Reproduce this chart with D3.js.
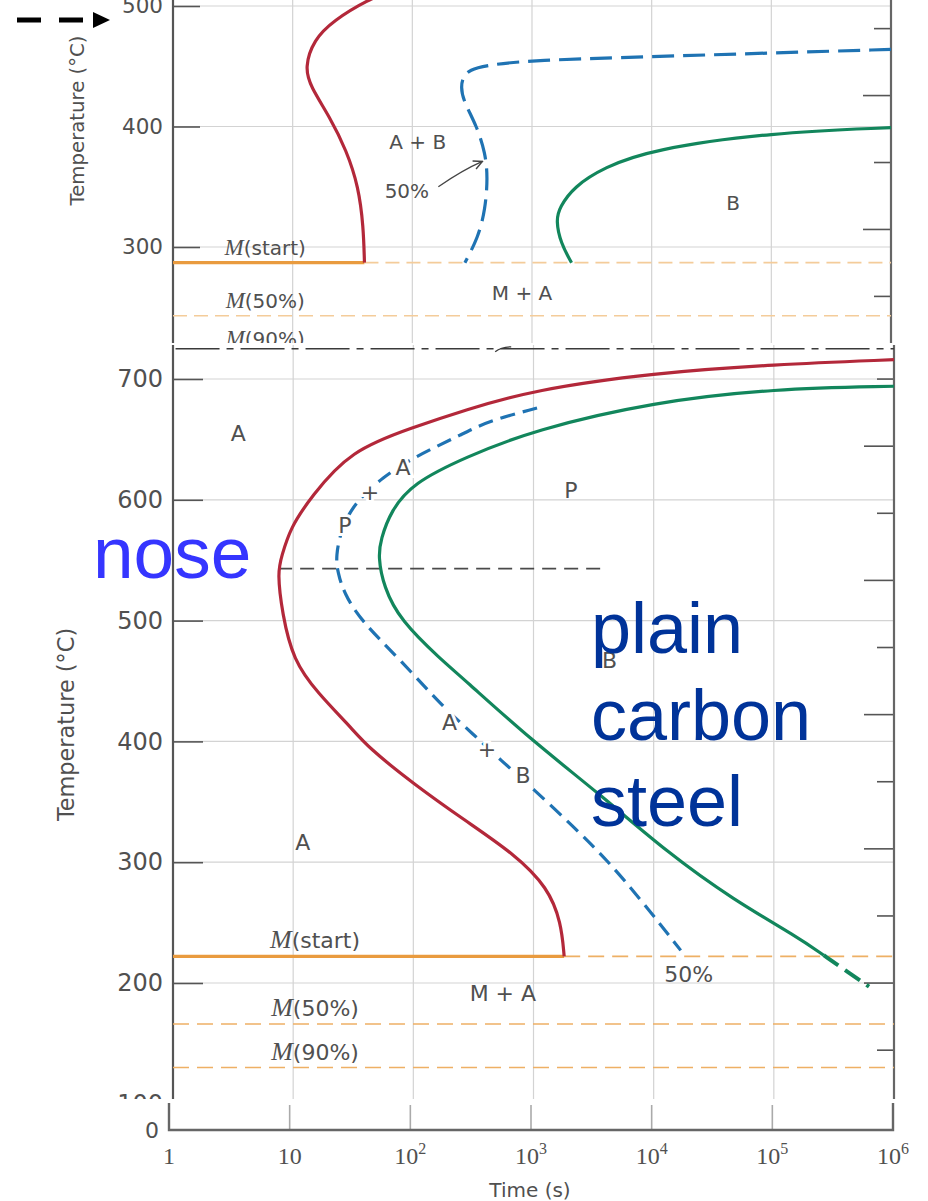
<!DOCTYPE html>
<html>
<head>
<meta charset="utf-8">
<title>TTT diagram</title>
<script src="https://cdn.jsdelivr.net/npm/d3@7/dist/d3.min.js"></script>
<style>
	body { margin: 0; background: #fff; }
	svg { display: block; }
</style>
</head>
<body>
<div id="chart"></div>
<script>
// times in seconds, temperatures in degrees C

// lower diagram: plain carbon (eutectoid) steel
var lowerStartTimes = [1e6, 1e5, 1e4, 1e3, 265, 100, 30, 14, 9.5, 8, 7.4, 8.1, 10, 16, 30, 42, 100, 265, 690, 1320, 1700, 1800];
var lowerStartTemps = [716, 712, 705, 691, 674, 660, 641, 602, 577, 553, 540, 506, 467, 440, 412, 395, 365, 335, 307, 279, 250, 222];
var lowerHalfTimes = [1070, 417, 263, 100, 56, 32, 25, 22.6, 23.5, 26.4, 36.5, 79, 178, 316, 525, 990, 2170, 4080, 7820, 16800];
var lowerHalfTemps = [676, 665, 655, 635, 619, 597, 575, 553, 540, 523, 500, 467, 428, 406, 385, 361, 329, 302, 269, 227];
var lowerEndTimes = [1e6, 1e5, 1e4, 1020, 267, 100, 65, 53.5, 51, 56.6, 78, 173, 254, 960, 3500, 13000, 46000, 158000, 260000];
var lowerEndTemps = [694, 692, 681, 658, 635, 614, 591, 567, 553, 528, 500, 467, 453, 401, 357, 308, 269, 238, 223];
var lowerEndTailTimes = [260000, 400000, 620000];
var lowerEndTailTemps = [223, 210, 197];
var lowerMartensite = [222, 166, 130];
var eutectoidTemp = 725;
var noseTemp = 543;
var noseTimes = [7.5, 3900];

// upper diagram (partly hidden behind the lower one)
var upperStartTimes = [75, 42, 22, 15, 12.6, 14.1, 20.4, 28.2, 35.5, 39, 39.8];
var upperStartTemps = [515, 505, 488, 472, 449, 433, 408, 380, 350, 317, 287];
var upperHalfTimes = [1e6, 1e5, 1e4, 1000, 420, 300, 265, 255, 265, 347, 407, 427, 407, 355, 275];
var upperHalfTemps = [464, 461, 458, 455, 451, 447, 441, 433, 422, 400, 378, 358, 331, 308, 287];
var upperEndTimes = [1e6, 1e5, 1e4, 3980, 2240, 1700, 1585, 1740, 2140];
var upperEndTemps = [399, 395, 381, 366, 350, 333, 322, 303, 287];
var upperMartensite = [287, 243, 211];

var martensiteNames = ["start", "50%", "90%"];
var decadeTicks = [1, 10, 100, 1e3, 1e4, 1e5, 1e6];
var lowerTempTicks = [700, 600, 500, 400, 300, 200, 100];
var upperTempTicks = [500, 400, 300];
var fahrenheitTicks = [1300, 1200, 1100, 1000, 900, 800, 700, 600, 500, 400, 300];

// region labels: [text, time, temp, halo]
var lowerRegionLabels = [
	["A", 3.5, 655, false], ["P", 27, 579, true], ["+", 43.5, 606, true], ["A", 82, 627, true],
	["P", 2050, 608, false], ["B", 4300, 467, false], ["A", 200, 416, true], ["+", 410, 394, true],
	["B", 820, 372, true], ["A", 12, 317, false], ["M + A", 556, 192, false], ["50%", 19600, 207, false]
];
var upperRegionLabels = [
	["A + B", 111, 387, false], ["50%", 90, 347, false], ["B", 48000, 337, false], ["M + A", 825, 262, false]
];

var colors = {
	start: "#b3283a",
	half: "#1f73b3",
	end: "#12865c",
	mart: "#e99b3f",
	martDash: "#eeb065",
	grid: "#d3d3d3",
	axis: "#555",
	text: "#505050"
};
var sansFont = "DejaVu Sans, sans-serif";
var serifFont = "Liberation Serif, Times New Roman, serif";
var bigFont = "Liberation Sans, Arial, sans-serif";

var width = 928, height = 1201;

var svg = d3.select("#chart").append("svg")
	.attr("width", width)
	.attr("height", height);

svg.append("rect")
	.attr("width", width)
	.attr("height", height)
	.attr("fill", "white");

var defs = svg.append("defs");
defs.append("clipPath").attr("id", "clipUpper")
	.append("rect").attr("x", 0).attr("y", 0).attr("width", width).attr("height", 343);
defs.append("clipPath").attr("id", "clipLower")
	.append("rect").attr("x", 0).attr("y", 345).attr("width", width).attr("height", 754);
defs.append("marker")
	.attr("id", "arrowHead")
	.attr("viewBox", "0 0 10 10")
	.attr("refX", 9)
	.attr("refY", 5)
	.attr("markerWidth", 11)
	.attr("markerHeight", 11)
	.attr("markerUnits", "userSpaceOnUse")
	.attr("orient", "auto")
	.append("path")
		.attr("d", "M1,1 L9,5 L1,9")
		.attr("fill", "none")
		.attr("stroke", "#444")
		.attr("stroke-width", 1.3);

function toCelsius(f) {
	return (f - 32) / 1.8;
}

function drawFrame(g, x, y, cfg) {
	var x0 = x.range()[0], x1 = x.range()[1];

	// grid
	g.append("g").selectAll("line")
		.data(decadeTicks.slice(1, -1))
		.enter().append("line")
			.attr("x1", function (d) { return x(d); })
			.attr("x2", function (d) { return x(d); })
			.attr("y1", cfg.top)
			.attr("y2", cfg.bottom)
			.attr("stroke", colors.grid)
			.attr("stroke-width", 1.2);

	g.append("g").selectAll("line")
		.data(cfg.temps)
		.enter().append("line")
			.attr("x1", x0)
			.attr("x2", x1)
			.attr("y1", function (d) { return y(d); })
			.attr("y2", function (d) { return y(d); })
			.attr("stroke", colors.grid)
			.attr("stroke-width", 1.2);

	// left axis, ticks pointing inwards
	var axis = g.append("g")
		.attr("transform", "translate(" + x0 + ",0)")
		.call(d3.axisLeft(y).tickValues(cfg.temps).tickSizeInner(-cfg.tickLength).tickSizeOuter(0).tickPadding(10));
	axis.attr("font-family", sansFont).attr("font-size", cfg.fontSize);
	axis.select(".domain").remove();
	axis.selectAll(".tick line").attr("stroke", colors.axis).attr("stroke-width", 1.6);
	axis.selectAll(".tick text").attr("fill", colors.text);

	// right axis is in degF, no labels visible
	g.append("g").selectAll("line")
		.data(fahrenheitTicks)
		.enter().append("line")
			.attr("x1", function (d) { return x1 - (d % 200 === 0 ? cfg.longTick : cfg.shortTick); })
			.attr("x2", x1)
			.attr("y1", function (d) { return y(toCelsius(d) + cfg.fShift); })
			.attr("y2", function (d) { return y(toCelsius(d) + cfg.fShift); })
			.attr("stroke", colors.axis)
			.attr("stroke-width", 1.6);

	g.append("line")
		.attr("x1", x0).attr("x2", x0)
		.attr("y1", cfg.top).attr("y2", cfg.bottom)
		.attr("stroke", colors.axis)
		.attr("stroke-width", 2.2);
	g.append("line")
		.attr("x1", x1).attr("x2", x1)
		.attr("y1", cfg.top).attr("y2", cfg.bottom)
		.attr("stroke", "#666")
		.attr("stroke-width", 2.2);
}

function drawCurve(g, x, y, times, temps, color, dash, strokeWidth) {
	var line = d3.line()
		.x(function (d) { return x(d[0]); })
		.y(function (d) { return y(d[1]); })
		.curve(d3.curveBasis);

	g.append("path")
		.datum(d3.zip(times, temps))
		.attr("d", line)
		.attr("fill", "none")
		.attr("stroke", color)
		.attr("stroke-width", strokeWidth || 3.2)
		.attr("stroke-dasharray", dash || null);
}

function drawMartensite(g, x, y, temps, solidUntil, cfg) {
	var ends = x.domain();

	// M(start) is solid until the start curve reaches it
	g.append("line")
		.attr("x1", x(ends[0])).attr("x2", x(solidUntil))
		.attr("y1", y(temps[0])).attr("y2", y(temps[0]))
		.attr("stroke", colors.mart)
		.attr("stroke-width", 3.2);
	g.append("line")
		.attr("x1", x(solidUntil)).attr("x2", x(ends[1]))
		.attr("y1", y(temps[0])).attr("y2", y(temps[0]))
		.attr("stroke", cfg.dashColor)
		.attr("stroke-width", 1.6)
		.attr("stroke-dasharray", cfg.dash);

	g.append("g").selectAll("line")
		.data(temps.slice(1))
		.enter().append("line")
			.attr("x1", x(ends[0]))
			.attr("x2", x(ends[1]))
			.attr("y1", function (d) { return y(d); })
			.attr("y2", function (d) { return y(d); })
			.attr("stroke", cfg.dashColor)
			.attr("stroke-width", 1.6)
			.attr("stroke-dasharray", cfg.dash);

	temps.forEach(function (t, i) {
		var text = g.append("text")
			.attr("x", x(cfg.labelTime))
			.attr("y", y(t) - cfg.labelRise)
			.attr("text-anchor", "middle")
			.attr("fill", colors.text);
		text.append("tspan")
			.style("font-family", serifFont)
			.style("font-style", "italic")
			.style("font-size", cfg.mSize + "px")
			.text("M");
		text.append("tspan")
			.style("font-family", sansFont)
			.style("font-size", cfg.fontSize + "px")
			.text("(" + martensiteNames[i] + ")");
	});
}

function drawLabels(g, x, y, labels, fontSize) {
	g.append("g").selectAll("text")
		.data(labels)
		.enter().append("text")
			.attr("x", function (d) { return x(d[1]); })
			.attr("y", function (d) { return y(d[2]); })
			.attr("dy", "0.36em")
			.attr("text-anchor", "middle")
			.attr("font-family", sansFont)
			.attr("font-size", fontSize)
			.attr("fill", colors.text)
			.attr("stroke", function (d) { return d[3] ? "white" : null; })
			.attr("stroke-width", function (d) { return d[3] ? 6 : null; })
			.attr("paint-order", "stroke")
			.text(function (d) { return d[0]; });
}

// ---------- upper diagram ----------
var xUp = d3.scaleLog().domain([1, 1e6]).range([173, 891]);
var yUp = d3.scaleLinear().domain([500, 300]).range([6, 247]);
var upper = svg.append("g").attr("clip-path", "url(#clipUpper)");

drawFrame(upper, xUp, yUp, {
	top: 0, bottom: 343, temps: upperTempTicks, tickLength: 27,
	fontSize: 21.5, fShift: -1, longTick: 28, shortTick: 17
});
drawMartensite(upper, xUp, yUp, upperMartensite, upperStartTimes[upperStartTimes.length - 1], {
	dash: "14,7", dashColor: "#f4cc9a", labelTime: 5.9, labelRise: 8, mSize: 23, fontSize: 20
});
drawCurve(upper, xUp, yUp, upperStartTimes, upperStartTemps, colors.start);
drawCurve(upper, xUp, yUp, upperHalfTimes, upperHalfTemps, colors.half, "22,9");
drawCurve(upper, xUp, yUp, upperEndTimes, upperEndTemps, colors.end);
drawLabels(upper, xUp, yUp, upperRegionLabels, 20);

var leader = d3.path();
leader.moveTo(xUp(165), yUp(350));
leader.quadraticCurveTo(xUp(265), yUp(364), xUp(385), yUp(371));
upper.append("path")
	.attr("d", leader.toString())
	.attr("fill", "none")
	.attr("stroke", "#444")
	.attr("stroke-width", 1.3)
	.attr("marker-end", "url(#arrowHead)");

upper.append("text")
	.attr("transform", "translate(84," + yUp(405) + ") rotate(-90)")
	.attr("text-anchor", "middle")
	.attr("font-family", sansFont)
	.attr("font-size", 19.7)
	.attr("fill", colors.text)
	.text("Temperature (°C)");

// ---------- lower diagram ----------
var xLow = d3.scaleLog().domain([1, 1e6]).range([173, 894]);
var yLow = d3.scaleLinear().domain([700, 200]).range([379, 983]);
var lower = svg.append("g").attr("clip-path", "url(#clipLower)");

drawFrame(lower, xLow, yLow, {
	top: 345, bottom: 1099, temps: lowerTempTicks, tickLength: 30,
	fontSize: 24, fShift: -4.5, longTick: 30, shortTick: 17
});

// eutectoid line (dash-dot)
lower.append("line")
	.attr("x1", xLow(1.05)).attr("x2", xLow(1e6))
	.attr("y1", yLow(eutectoidTemp)).attr("y2", yLow(eutectoidTemp))
	.attr("stroke", "#3a3a3a")
	.attr("stroke-width", 1.6)
	.attr("stroke-dasharray", "44,7,7,7");
lower.append("path")
	.attr("d", "M" + xLow(480) + "," + (yLow(eutectoidTemp) + 3) + " q6,-5 16,-5")
	.attr("fill", "none")
	.attr("stroke", "#3a3a3a")
	.attr("stroke-width", 1.3);

// nose line
lower.append("line")
	.attr("x1", xLow(noseTimes[0])).attr("x2", xLow(noseTimes[1]))
	.attr("y1", yLow(noseTemp)).attr("y2", yLow(noseTemp))
	.attr("stroke", "#4a4a4a")
	.attr("stroke-width", 1.6)
	.attr("stroke-dasharray", "14,8");

drawMartensite(lower, xLow, yLow, lowerMartensite, lowerStartTimes[lowerStartTimes.length - 1], {
	dash: "16,8", dashColor: colors.martDash, labelTime: 15.2, labelRise: 8, mSize: 26, fontSize: 22
});
drawCurve(lower, xLow, yLow, lowerStartTimes, lowerStartTemps, colors.start);
drawCurve(lower, xLow, yLow, lowerHalfTimes, lowerHalfTemps, colors.half, "15,8");
drawCurve(lower, xLow, yLow, lowerEndTimes, lowerEndTemps, colors.end);
drawCurve(lower, xLow, yLow, lowerEndTailTimes, lowerEndTailTemps, colors.end, "18,8", 4);
drawLabels(lower, xLow, yLow, lowerRegionLabels, 22);

svg.append("text")
	.attr("transform", "translate(74," + yLow(414) + ") rotate(-90)")
	.attr("text-anchor", "middle")
	.attr("font-family", sansFont)
	.attr("font-size", 22.4)
	.attr("fill", colors.text)
	.text("Temperature (°C)");

// ---------- broken time axis below ----------
var xStrip = d3.scaleLog().domain([1, 1e6]).range([169, 893]);
var strip = svg.append("g");
var stripTop = 1103, stripAxis = 1130;

strip.selectAll("line")
	.data(decadeTicks.slice(1, -1))
	.enter().append("line")
		.attr("x1", function (d) { return xStrip(d); })
		.attr("x2", function (d) { return xStrip(d); })
		.attr("y1", stripTop + 2)
		.attr("y2", stripAxis)
		.attr("stroke", "#aaa")
		.attr("stroke-width", 1.6);

strip.append("path")
	.attr("d", "M" + xStrip(1) + "," + stripTop + "V" + stripAxis + "H" + xStrip(1e6) + "V" + stripTop)
	.attr("fill", "none")
	.attr("stroke", "#666")
	.attr("stroke-width", 2.4);

strip.append("text")
	.attr("x", xStrip(1) - 10)
	.attr("y", stripAxis + 8)
	.attr("text-anchor", "end")
	.attr("font-family", sansFont)
	.attr("font-size", 22)
	.attr("fill", colors.text)
	.text("0");

strip.append("g").selectAll("text")
	.data(decadeTicks)
	.enter().append("text")
		.attr("x", function (d) { return xStrip(d); })
		.attr("y", stripAxis + 34)
		.attr("text-anchor", "middle")
		.attr("font-family", serifFont)
		.attr("font-size", 24)
		.attr("fill", colors.text)
		.each(function (d) {
			var power = Math.round(Math.log10(d));
			var t = d3.select(this);
			if (power < 2) {
				t.text(d);
			} else {
				t.append("tspan").text("10");
				t.append("tspan").attr("dy", -10).attr("font-size", 16).text(power);
			}
		});

strip.append("text")
	.attr("x", 530)
	.attr("y", 1197)
	.attr("text-anchor", "middle")
	.attr("font-family", sansFont)
	.attr("font-size", 20)
	.attr("fill", colors.text)
	.text("Time (s)");

// ---------- annotations ----------
var pointer = svg.append("g");
pointer.append("line")
	.attr("x1", 17).attr("x2", 93)
	.attr("y1", 20).attr("y2", 20)
	.attr("stroke", "black")
	.attr("stroke-width", 5)
	.attr("stroke-dasharray", "24,18");
pointer.append("path")
	.attr("d", "M93,12 L110,20 L93,28 Z")
	.attr("fill", "black");

svg.append("text")
	.attr("x", 93)
	.attr("y", 578)
	.attr("font-family", bigFont)
	.attr("font-size", 73)
	.attr("fill", "#3535ff")
	.text("nose");

svg.append("g").selectAll("text")
	.data(["plain", "carbon", "steel"])
	.enter().append("text")
		.attr("x", 591)
		.attr("y", function (d, i) { return 653 + i * 86.5; })
		.attr("font-family", bigFont)
		.attr("font-size", 72)
		.attr("fill", "#003399")
		.text(function (d) { return d; });
</script>
</body>
</html>
